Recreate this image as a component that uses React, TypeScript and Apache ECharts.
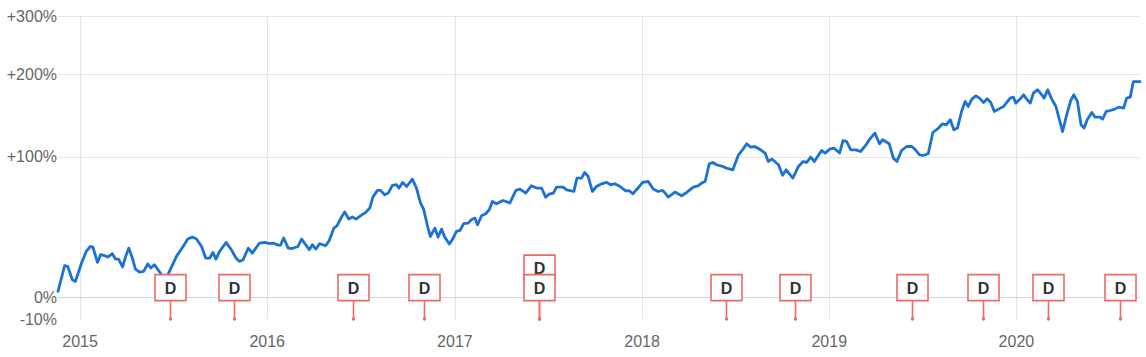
import React, { useEffect, useRef } from "react";
import * as echarts from "echarts";

// Cumulative total return of the holding, in percent, by date.
const dates = [
  "2014-11-19", "2014-12-02", "2014-12-08", "2014-12-17", "2014-12-23", "2015-01-04", "2015-01-13", "2015-01-21",
  "2015-01-26", "2015-02-04", "2015-02-10", "2015-02-18", "2015-02-24", "2015-03-05", "2015-03-11", "2015-03-17",
  "2015-03-25", "2015-03-31", "2015-04-06", "2015-04-13", "2015-04-19", "2015-04-27", "2015-05-05", "2015-05-13",
  "2015-05-19", "2015-05-26", "2015-06-02", "2015-06-09", "2015-06-15", "2015-06-23", "2015-07-08", "2015-07-21",
  "2015-07-30", "2015-08-08", "2015-08-16", "2015-08-26", "2015-09-03", "2015-09-11", "2015-09-17", "2015-09-23",
  "2015-09-30", "2015-10-13", "2015-10-23", "2015-11-01", "2015-11-08", "2015-11-15", "2015-11-25", "2015-12-03",
  "2015-12-17", "2015-12-27", "2016-01-06", "2016-01-12", "2016-01-22", "2016-01-27", "2016-02-02", "2016-02-11",
  "2016-02-17", "2016-03-01", "2016-03-08", "2016-03-16", "2016-03-23", "2016-03-29", "2016-04-05", "2016-04-12",
  "2016-04-24", "2016-05-01", "2016-05-10", "2016-05-16", "2016-05-25", "2016-05-31", "2016-06-08", "2016-06-15",
  "2016-06-22", "2016-07-01", "2016-07-11", "2016-07-19", "2016-07-25", "2016-08-03", "2016-08-09", "2016-08-17",
  "2016-08-24", "2016-09-01", "2016-09-09", "2016-09-14", "2016-09-21", "2016-09-29", "2016-10-10", "2016-10-18",
  "2016-10-26", "2016-11-01", "2016-11-08", "2016-11-14", "2016-11-23", "2016-11-29", "2016-12-06", "2016-12-12",
  "2016-12-21", "2016-12-27", "2017-01-04", "2017-01-11", "2017-01-18", "2017-01-27", "2017-02-02", "2017-02-09",
  "2017-02-14", "2017-02-22", "2017-03-02", "2017-03-09", "2017-03-15", "2017-03-23", "2017-04-05", "2017-04-18",
  "2017-04-30", "2017-05-08", "2017-05-19", "2017-05-30", "2017-06-09", "2017-06-19", "2017-06-27", "2017-07-04",
  "2017-07-12", "2017-07-18", "2017-07-31", "2017-08-07", "2017-08-21", "2017-08-27", "2017-09-05", "2017-09-11",
  "2017-09-18", "2017-09-26", "2017-10-04", "2017-10-14", "2017-10-24", "2017-11-01", "2017-11-09", "2017-11-19",
  "2017-11-30", "2017-12-07", "2017-12-14", "2017-12-24", "2018-01-02", "2018-01-13", "2018-01-23", "2018-02-01",
  "2018-02-10", "2018-02-14", "2018-02-21", "2018-03-06", "2018-03-19", "2018-03-29", "2018-04-11", "2018-04-20",
  "2018-04-27", "2018-05-04", "2018-05-12", "2018-05-19", "2018-05-26", "2018-06-07", "2018-06-15", "2018-06-27",
  "2018-07-08", "2018-07-17", "2018-07-24", "2018-08-01", "2018-08-09", "2018-08-20", "2018-08-29", "2018-09-04",
  "2018-09-11", "2018-09-24", "2018-10-02", "2018-10-09", "2018-10-22", "2018-11-02", "2018-11-11", "2018-11-18",
  "2018-11-26", "2018-12-03", "2018-12-17", "2018-12-24", "2019-01-02", "2019-01-10", "2019-01-21", "2019-01-28",
  "2019-02-04", "2019-02-12", "2019-02-22", "2019-03-03", "2019-03-14", "2019-03-21", "2019-03-31", "2019-04-09",
  "2019-04-15", "2019-04-28", "2019-05-06", "2019-05-13", "2019-05-22", "2019-06-01", "2019-06-11", "2019-06-17",
  "2019-06-26", "2019-07-03", "2019-07-13", "2019-07-22", "2019-08-02", "2019-08-10", "2019-08-17", "2019-08-25",
  "2019-09-01", "2019-09-08", "2019-09-16", "2019-09-23", "2019-09-29", "2019-10-06", "2019-10-14", "2019-10-21",
  "2019-10-29", "2019-11-05", "2019-11-12", "2019-11-19", "2019-11-27", "2019-12-07", "2019-12-13", "2019-12-20",
  "2019-12-26", "2019-12-31", "2020-01-08", "2020-01-15", "2020-01-21", "2020-01-28", "2020-02-03", "2020-02-11",
  "2020-02-16", "2020-02-24", "2020-03-02", "2020-03-10", "2020-03-18", "2020-03-25", "2020-03-31", "2020-04-08",
  "2020-04-16", "2020-04-22", "2020-04-29", "2020-05-06", "2020-05-12", "2020-05-18", "2020-05-27", "2020-06-02",
  "2020-06-12", "2020-06-17", "2020-06-24", "2020-07-02", "2020-07-11", "2020-07-18", "2020-07-28", "2020-08-03",
  "2020-08-10", "2020-08-16", "2020-08-26", "2020-08-29",
];

const returnsPct = [
  3.1, 17.0, 16.6, 9.2, 8.3, 18.6, 25.5, 28.6,
  28.3, 18.9, 23.5, 22.9, 22.1, 24.1, 20.9, 20.9,
  16.3, 22.5, 27.6, 21.5, 15.1, 13.4, 13.8, 18.0,
  15.7, 17.6, 14.7, 11.9, 9.7, 12.9, 22.5, 28.6,
  33.4, 34.7, 33.4, 28.6, 21.5, 21.5, 24.9, 20.9,
  25.5, 31.2, 26.6, 21.5, 19.5, 20.5, 27.6, 24.5,
  30.8, 31.2, 30.4, 30.8, 29.5, 29.5, 34.1, 27.6,
  27.2, 28.6, 33.4, 29.7, 26.6, 29.7, 27.0, 30.4,
  29.1, 32.5, 40.8, 42.4, 48.7, 52.4, 47.2, 48.7,
  47.2, 49.6, 52.1, 55.4, 64.0, 69.5, 69.5, 65.9,
  67.3, 73.7, 74.3, 71.5, 76.3, 72.8, 79.2, 71.5,
  59.3, 54.6, 43.1, 35.1, 40.8, 34.7, 40.1, 34.7,
  30.2, 33.0, 38.5, 39.2, 43.9, 44.3, 46.7, 47.9,
  43.1, 49.6, 51.1, 54.1, 60.5, 58.7, 61.3, 59.3,
  69.5, 70.6, 67.3, 73.4, 71.5, 71.5, 64.0, 66.5,
  67.3, 72.3, 72.3, 70.0, 68.6, 80.1, 80.1, 85.2,
  81.5, 68.6, 72.8, 75.1, 76.3, 74.3, 75.1, 72.8,
  69.2, 69.2, 66.7, 71.5, 76.3, 77.1, 70.6, 68.6,
  69.5, 67.8, 64.0, 68.1, 65.1, 67.8, 72.3, 73.4,
  75.7, 77.1, 93.3, 94.5, 92.3, 90.7, 89.2, 87.6,
  102.0, 107.7, 113.2, 109.8, 110.4, 107.0, 103.7, 95.4,
  97.8, 92.3, 82.6, 87.6, 80.1, 90.7, 95.4, 94.5,
  99.7, 95.4, 106.3, 103.7, 107.7, 108.8, 103.7, 116.7,
  115.6, 107.0, 107.0, 105.3, 112.2, 118.2, 124.7, 113.2,
  117.5, 113.2, 98.7, 95.4, 106.3, 110.4, 110.4, 107.7,
  102.0, 101.3, 103.0, 125.4, 130.4, 135.3, 134.1, 140.0,
  128.4, 130.4, 150.0, 162.6, 156.2, 165.7, 170.0, 167.0,
  161.3, 166.1, 161.3, 150.0, 152.9, 156.2, 161.3, 167.0,
  168.3, 160.5, 165.7, 171.4, 165.7, 160.5, 173.6, 178.1,
  174.5, 167.0, 178.1, 165.7, 156.2, 140.0, 126.5, 145.9,
  163.9, 171.4, 162.6, 134.1, 130.4, 140.0, 148.7, 143.2,
  143.2, 140.8, 150.0, 151.2, 152.9, 155.4, 154.2, 167.0,
  168.3, 189.7, 189.7, 189.7,
];

// Dividend events ("D" flags); stack level 1 sits above a flag on the same date.
const dividendDates = [
  "2015-06-26", "2015-10-29", "2016-06-16", "2016-11-01", "2017-06-14", "2017-06-14",
  "2018-06-14", "2018-10-27", "2019-06-12", "2019-10-28", "2020-03-02", "2020-07-21",
];
const dividendStack = [0, 0, 0, 0, 1, 0, 0, 0, 0, 0, 0, 0];
const flagText = "D";

// Axis ticks and their labels.
const yTickPct = [-10, 0, 100, 200, 300];
const yTickLabels = ["-10%", "0%", "+100%", "+200%", "+300%"];
const yGridPct = [0, 100, 200, 300];
const yearTicks = ["2015-01-01", "2016-01-01", "2017-01-01", "2018-01-01", "2019-01-01", "2020-01-01"];
const yearLabels = ["2015", "2016", "2017", "2018", "2019", "2020"];
const xStart = "2014-11-19";
const xEnd = "2020-08-29";

const toLog = (p: number) => Math.log10(1 + p / 100);
const toTime = (d: string) => Date.parse(d + "T00:00:00Z");

const FONT = '"Liberation Sans", Arial, Helvetica, sans-serif';
const LINE_COLOR = "#1b72d4";
const FLAG_COLOR = "#ee6b64";

export default function App() {
  const ref = useRef<HTMLDivElement>(null);

  useEffect(() => {
    if (!ref.current) return;
    const chart = echarts.init(ref.current, null, { renderer: "svg" });

    const yMin = toLog(yTickPct[0]);
    const yMax = toLog(yTickPct[yTickPct.length - 1]);
    const yTickVals = yTickPct.map(toLog);
    const yearVals = yearTicks.map(toTime);

    const lineData = dates.map((d, i) => [toTime(d), toLog(returnsPct[i])]);
    const flagData = dividendDates.map((d, i) => [toTime(d), dividendStack[i]]);

    chart.setOption({
      animation: false,
      backgroundColor: "#ffffff",
      grid: { left: 58, right: 6, top: 16, bottom: 38, containLabel: false },
      xAxis: {
        type: "value",
        min: toTime(xStart),
        max: toTime(xEnd),
        axisLine: { show: true, lineStyle: { color: "#ccd6eb", width: 1 } },
        axisTick: { show: false, customValues: yearVals },
        splitLine: { show: true, lineStyle: { color: "#e6e6e6", width: 1 } },
        axisLabel: {
          customValues: yearVals,
          formatter: (v: number) => {
            const i = yearVals.findIndex((t) => Math.abs(t - v) < 1000);
            return i >= 0 ? yearLabels[i] : "";
          },
          color: "#666666",
          fontSize: 16,
          fontFamily: FONT,
          margin: 14,
          hideOverlap: false,
        },
      },
      yAxis: {
        type: "value",
        min: yMin,
        max: yMax,
        axisLine: { show: false },
        axisTick: { show: false, customValues: yGridPct.map(toLog) },
        splitLine: { show: true, lineStyle: { color: "#e6e6e6", width: 1 } },
        axisLabel: {
          customValues: yTickVals,
          formatter: (v: number) => {
            const i = yTickVals.findIndex((t) => Math.abs(t - v) < 1e-6);
            return i >= 0 ? yTickLabels[i] : "";
          },
          color: "#666666",
          fontSize: 16,
          fontFamily: FONT,
          margin: 1,
          hideOverlap: false,
        },
      },
      series: [
        {
          type: "line",
          data: lineData,
          showSymbol: false,
          symbol: "none",
          smooth: false,
          z: 2,
          lineStyle: { color: LINE_COLOR, width: 2.8, join: "round", cap: "round" },
        },
        {
          type: "custom",
          z: 3,
          data: flagData,
          renderItem: (params: any, api: any) => {
            const level = api.value(1);
            const base = api.coord([api.value(0), yMin]);
            const cx = Math.round(base[0]) + 0.5;
            const axisY = base[1];
            const w = 31;
            const h = 26;
            const bottom = axisY - 18.4 - level * 19.5;
            const top = bottom - h;
            return {
              type: "group",
              children: [
                {
                  type: "line",
                  shape: { x1: cx, y1: bottom, x2: cx, y2: axisY },
                  style: { stroke: FLAG_COLOR, lineWidth: 1.6 },
                },
                {
                  type: "circle",
                  shape: { cx, cy: axisY, r: 1.7 },
                  style: { fill: FLAG_COLOR },
                },
                {
                  type: "rect",
                  shape: { x: cx - w / 2, y: top, width: w, height: h },
                  style: { fill: "#ffffff", stroke: FLAG_COLOR, lineWidth: 1.6 },
                },
                {
                  type: "text",
                  style: {
                    text: flagText,
                    x: cx,
                    y: top + h / 2 + 0.5,
                    align: "center",
                    verticalAlign: "middle",
                    fontSize: 16,
                    fontWeight: "bold",
                    fontFamily: FONT,
                    fill: "#333333",
                  },
                },
              ],
            };
          },
        },
      ],
    });

    return () => chart.dispose();
  }, []);

  return (
    <div
      ref={ref}
      style={{ position: "absolute", left: 0, top: 0, width: 1146, height: 357 }}
    />
  );
}
